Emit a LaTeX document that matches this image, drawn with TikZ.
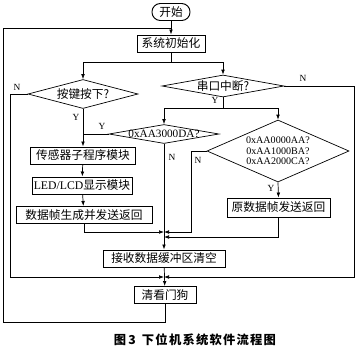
\documentclass[tikz,border=0pt]{standalone}
\usepackage{fontspec}
\setmainfont{Liberation Serif}
\newfontfamily\cjk{Noto Sans CJK SC}
\usetikzlibrary{arrows.meta, shapes.geometric, calc}

% zero-width text, so the diamond keeps its given size
\newcommand{\dtext}[1]{\makebox[0pt]{#1}}

\begin{document}
\begin{tikzpicture}[
    x=0.3mm, y=-0.3mm,
    every node/.style={inner sep=0pt},
    term/.style={rectangle, draw, line width=0.8pt, rounded corners=2.5mm,
                 minimum width=11.4mm, minimum height=5.1mm, font=\cjk\fontsize{10}{12}\selectfont},
    proc/.style={rectangle, draw, line width=0.8pt, minimum height=5.1mm,
                 font=\cjk\fontsize{10}{12}\selectfont},
    dia/.style={diamond, draw, line width=0.6pt, aspect=2},
    yn/.style={font=\fontsize{8}{9}\selectfont},
    arr/.style={-{Latex[length=1.5mm, width=1.1mm]}, line width=0.6pt},
    ln/.style={line width=0.6pt},
  ]
    \useasboundingbox (0,0) rectangle (360,353);
    % top
    \node[term] (start) at (171,12) {开始};
    \node[proc, minimum width=20.4mm] (init) at (171,43.5) {系统初始化};
    \coordinate (fb) at (171,28);
    \coordinate (lp) at (3,28);
    \coordinate (sp) at (171,62);
    % decisions
    \node[dia, minimum width=33mm, minimum height=8.7mm] (key) at (83,94)
      {\dtext{\cjk\fontsize{10}{12}\selectfont 按键按下?}};
    \node[dia, minimum width=36.6mm, minimum height=6.6mm] (ser) at (223,86)
      {\dtext{\cjk\fontsize{10}{12}\selectfont 串口中断?}};
    \coordinate (sp2) at (223,108);
    \node[dia, minimum width=33mm, minimum height=5.7mm] (hexa) at (164,134)
      {\dtext{\fontsize{9.6}{10}\selectfont 0xAA3000DA?}};
    \node[dia, minimum width=42.6mm, minimum height=18.6mm] (hexb) at (278,151)
      {\dtext{\fontsize{8.6}{9}\selectfont\shortstack{0xAA0000AA?\\0xAA1000BA?\\0xAA2000CA?}}};
    % key branch
    \node[proc, minimum width=31.5mm] (sens) at (83,155.5) {传感器子程序模块};
    \node[proc, minimum width=30mm] (led) at (82,185.5) {{\rmfamily LED/LCD}显示模块};
    \node[proc, minimum width=40.8mm] (frm) at (84,215) {数据帧生成并发送返回};
    \node[proc, minimum width=30.9mm, minimum height=5.7mm] (orig) at (278.5,207.5) {原数据帧发送返回};
    % merge and end
    \coordinate (m1) at (164,232);
    \coordinate (m1b) at (164,237);
    \node[proc, minimum width=36.6mm] (clr) at (164,258.5) {接收数据缓冲区清空};
    \coordinate (m2) at (164,277);
    \node[proc, minimum width=18.6mm] (dog) at (165,295) {清看门狗};
    % connectors
    \draw[arr] (start) -- (init);
    \draw[ln] (dog.south) -- ++(0,18) -| (lp) -- (fb);
    \draw[ln] (init.south) -- (sp);
    \draw[arr] (sp) -| (key.north);
    \draw[arr] (sp) -| (ser.north);
    \draw[arr] (key.west) -- ++(-17,0) |- (m2);
    \draw[arr] (ser.east) -- ++(70,0) |- (m2);
    \draw[ln] (ser.south) -- (sp2);
    \draw[arr] (sp2) -| (hexa.north);
    \draw[arr] (sp2) -| (hexb.north);
    \draw[arr] (key.south) -- (sens.north);
    \draw[ln] (hexa.west) -- (hexa.west -| key.south);
    \draw[arr] (sens) -- (led);
    \draw[arr] (led) -- (frm);
    \draw[arr] (frm.south) |- (m1);
    \draw[arr] (hexb.west) -- ++(-15,0) |- (m1);
    \draw[arr] (hexb.south) -- (orig.north);
    \draw[arr] (orig.south) |- (m1b);
    \draw[arr] (hexa.south) -- (clr.north);
    \draw[arr] (clr) -- (dog);
    % branch labels
    \node[yn] (nkey) at (17,87) {N};
    \node[yn] (ykey) at (76,117) {Y};
    \node[yn] (nser) at (303,78) {N};
    \node[yn] (yser) at (215,100) {Y};
    \node[yn] (yhexa) at (102,126) {Y};
    \node[yn] (nhexa) at (172,157) {N};
    \node[yn] (nhexb) at (198,160) {N};
    \node[yn] (yhexb) at (271,188) {Y};
    % caption
    \node[font=\cjk\bfseries\fontsize{10.5}{12}\selectfont\addfontfeatures{LetterSpace=10}] (cap) at (195,340)
      {图\,3\enspace 下位机系统软件流程图};
\end{tikzpicture}
\end{document}
